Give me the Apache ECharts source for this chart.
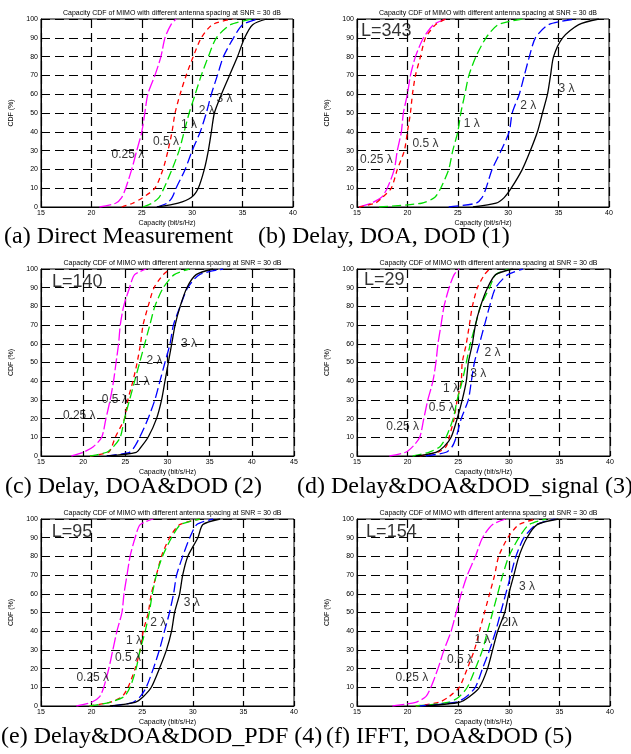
<!DOCTYPE html>
<html>
<head>
<meta charset="utf-8">
<script src="https://cdn.jsdelivr.net/npm/echarts@6/dist/echarts.min.js"></script>
<style>html,body{margin:0;padding:0;background:#fff;}#c{width:631px;height:754px;}</style>
</head>
<body>
<div id="c"></div>
<script>
// CDF levels (%) shared by all curves
const cdfLevels = [0, 2, 5, 10, 20, 30, 40, 50, 60, 70, 80, 90, 97, 100];
const spacingNames = ['0.25 λ', '0.5 λ', '1 λ', '2 λ', '3 λ'];

// (a) Direct Measurement: capacity (bit/s/Hz) at each CDF level
const capA_025 = [20.8, 22.4, 23.0, 23.4, 24.0, 24.5, 25.0, 25.3, 25.6, 26.3, 26.9, 27.3, 27.9, 28.4];
const capA_05  = [23.0, 24.1, 25.1, 26.3, 27.1, 27.6, 28.0, 28.3, 28.8, 29.4, 30.1, 30.9, 32.0, 34.0];
const capA_1   = [25.1, 26.0, 26.7, 27.2, 28.0, 28.7, 29.2, 29.7, 30.3, 30.9, 31.6, 32.4, 33.8, 36.0];
const capA_2   = [26.5, 27.5, 28.0, 28.4, 29.3, 30.0, 30.8, 31.4, 31.9, 32.5, 33.1, 34.1, 35.0, 36.5];
const capA_3   = [26.5, 28.6, 29.9, 30.6, 31.2, 31.6, 31.9, 32.2, 32.9, 33.7, 34.5, 35.2, 36.0, 37.4];

// (b) Delay, DOA, DOD (1)
const capB_025 = [15.2, 16.4, 17.4, 18.0, 18.7, 19.0, 19.4, 19.6, 20.0, 20.3, 20.8, 21.6, 22.6, 23.8];
const capB_05  = [15.2, 16.8, 17.5, 18.4, 19.0, 19.7, 20.0, 20.3, 20.5, 20.8, 21.3, 21.8, 22.8, 23.8];
const capB_1   = [17.2, 21.4, 22.7, 23.3, 24.1, 24.5, 25.0, 25.3, 25.7, 26.1, 26.8, 27.8, 29.0, 31.4];
const capB_2   = [24.1, 26.8, 27.4, 27.8, 28.4, 29.3, 30.1, 30.4, 31.1, 31.6, 32.1, 32.7, 34.0, 36.7];
const capB_3   = [26.5, 28.8, 29.6, 30.3, 31.4, 32.2, 32.9, 33.4, 33.9, 34.2, 34.5, 35.4, 37.0, 39.0];

// (c) Delay, DOA&DOD (2)
const capC_025 = [18.6, 20.0, 21.2, 22.2, 22.7, 23.2, 23.6, 23.9, 24.2, 24.4, 24.8, 25.5, 26.1, 27.5];
const capC_05  = [20.8, 23.0, 23.4, 23.8, 24.9, 25.3, 25.9, 26.4, 26.8, 27.1, 27.7, 28.4, 29.5, 30.3];
const capC_1   = [20.8, 22.8, 23.6, 24.4, 24.9, 25.5, 26.1, 26.7, 27.3, 27.9, 28.5, 29.5, 30.8, 32.6];
const capC_2   = [22.8, 25.5, 26.1, 26.7, 27.7, 28.5, 29.1, 29.7, 30.3, 30.7, 31.5, 32.4, 33.8, 36.6];
const capC_3   = [22.8, 26.3, 26.9, 27.7, 28.7, 29.3, 29.7, 30.1, 30.5, 30.9, 31.5, 32.3, 33.4, 35.4];

// (d) Delay&DOA&DOD_signal (3)
const capD_025 = [18.2, 19.8, 20.5, 21.2, 21.6, 22.0, 22.5, 22.8, 23.0, 23.3, 23.6, 24.1, 24.6, 25.1];
const capD_05  = [21.2, 23.0, 23.8, 24.1, 24.6, 24.9, 25.3, 25.4, 25.8, 26.1, 26.4, 26.9, 27.6, 28.1];
const capD_1   = [20.5, 22.1, 23.2, 23.8, 24.5, 24.9, 25.4, 25.8, 26.2, 26.7, 27.2, 28.1, 28.7, 30.0];
const capD_2   = [21.8, 23.8, 24.4, 24.8, 25.3, 26.0, 26.3, 26.6, 27.1, 27.6, 28.1, 28.7, 29.9, 31.4];
const capD_3   = [20.8, 22.8, 23.6, 24.3, 24.9, 25.4, 25.8, 26.0, 26.4, 26.7, 27.2, 27.9, 28.7, 30.4];

// (e) Delay&DOA&DOD_PDF (4)
const capE_025 = [18.5, 20.0, 20.8, 21.2, 21.7, 22.1, 22.5, 23.0, 23.2, 23.5, 23.8, 24.3, 24.8, 26.1];
const capE_05  = [19.8, 21.8, 23.0, 23.6, 24.3, 24.8, 25.1, 25.6, 25.9, 26.4, 26.9, 27.7, 28.7, 30.7];
const capE_1   = [19.8, 21.8, 23.2, 23.8, 24.4, 24.8, 25.3, 25.7, 26.0, 26.4, 27.0, 27.9, 28.8, 30.7];
const capE_2   = [22.1, 24.1, 24.8, 25.4, 26.1, 26.7, 27.2, 27.7, 28.1, 28.4, 29.0, 29.7, 30.4, 32.0];
const capE_3   = [21.8, 24.3, 25.1, 25.9, 26.7, 27.4, 27.9, 28.2, 28.7, 29.0, 29.5, 30.5, 31.0, 32.7];

// (f) IFFT, DOA&DOD (5)
const capF_025 = [18.5, 20.8, 21.8, 22.3, 23.0, 23.6, 24.3, 24.8, 25.3, 25.9, 26.7, 27.4, 28.4, 29.7];
const capF_05  = [20.8, 23.1, 24.1, 25.1, 25.9, 26.6, 27.1, 27.6, 28.1, 28.6, 29.0, 29.9, 31.0, 32.7];
const capF_1   = [20.8, 24.1, 25.1, 25.9, 26.7, 27.4, 27.9, 28.4, 28.9, 29.4, 30.0, 31.0, 32.0, 33.7];
const capF_2   = [21.2, 24.8, 25.8, 26.7, 27.4, 28.1, 28.7, 29.2, 29.7, 30.2, 30.7, 31.5, 32.7, 34.6];
const capF_3   = [21.8, 25.1, 26.1, 27.1, 27.9, 28.4, 28.9, 29.6, 30.0, 30.5, 31.0, 31.8, 32.8, 34.9];

// In-plot annotation anchors: [capacity, CDF %, text]
const notesA = [[22.0, 28, '0.25 λ'], [26.1, 35, '0.5 λ'], [28.9, 43.6, '1 λ'], [30.65, 51, '2 λ'], [32.4, 57.5, '3 λ']];
const notesB = [[15.4, 93.4, 'L=343'], [15.3, 25.3, '0.25 λ'], [20.5, 33.5, '0.5 λ'], [25.6, 44.5, '1 λ'], [31.2, 54, '2 λ'], [35.0, 63, '3 λ']];
const notesC = [[16.3, 93, 'L=140'], [17.6, 21.8, '0.25 λ'], [22.2, 30, '0.5 λ'], [26.0, 40, '1 λ'], [27.5, 51, '2 λ'], [31.6, 60, '3 λ']];
const notesD = [[15.7, 94, 'L=29'], [17.9, 15.5, '0.25 λ'], [22.1, 25.7, '0.5 λ'], [23.5, 36, '1 λ'], [26.2, 44, '3 λ'], [27.6, 55, '2 λ']];
const notesE = [[16.05, 93, 'L=95'], [18.5, 15, '0.25 λ'], [22.3, 25.7, '0.5 λ'], [23.4, 35, '1 λ'], [25.8, 44.6, '2 λ'], [29.1, 55, '3 λ']];
const notesF = [[15.9, 93, 'L=154'], [18.8, 15, '0.25 λ'], [23.9, 25, '0.5 λ'], [26.6, 35.7, '1 λ'], [29.3, 44.5, '2 λ'], [31.0, 64, '3 λ']];

// Axis ranges
const xMaxes = [40, 40, 45, 40, 40, 40];
const panelTitle = 'Capacity CDF of MIMO with different antenna spacing at SNR = 30 dB';
const captions = ['(a) Direct Measurement', '(b) Delay, DOA, DOD (1)', '(c) Delay, DOA&DOD (2)',
                  '(d) Delay&DOA&DOD_signal (3)', '(e) Delay&DOA&DOD_PDF (4)', '(f) IFFT, DOA&DOD (5)'];

const panels = [
  {caps: [capA_025, capA_05, capA_1, capA_2, capA_3], notes: notesA},
  {caps: [capB_025, capB_05, capB_1, capB_2, capB_3], notes: notesB},
  {caps: [capC_025, capC_05, capC_1, capC_2, capC_3], notes: notesC},
  {caps: [capD_025, capD_05, capD_1, capD_2, capD_3], notes: notesD},
  {caps: [capE_025, capE_05, capE_1, capE_2, capE_3], notes: notesE},
  {caps: [capF_025, capF_05, capF_1, capF_2, capF_3], notes: notesF}
];

// Layout / styling
const gridBoxes = [
  {left: 41, top: 19, width: 252, height: 188},
  {left: 357, top: 19, width: 252, height: 188},
  {left: 41, top: 269, width: 253, height: 187},
  {left: 357, top: 269, width: 253, height: 187},
  {left: 41, top: 519, width: 253, height: 187},
  {left: 357, top: 519, width: 253, height: 187}
];
const captionPos = [[4, 237], [258, 237], [5, 487], [297, 487], [1, 737], [326, 737]];
const lineStyles = [
  {color: '#ff00ff', type: [12, 3]},
  {color: '#ff0000', type: [5, 4]},
  {color: '#00dd00', type: [9, 4]},
  {color: '#0000ff', type: [10, 4]},
  {color: '#000000', type: 'solid'}
];

const grids = [], xAxes = [], yAxes = [], series = [], titles = [], graphics = [];
panels.forEach((p, i) => {
  const g = gridBoxes[i];
  grids.push(Object.assign({show: true, borderColor: '#000', borderWidth: 1, backgroundColor: '#fff', containLabel: false}, g));
  xAxes.push({
    type: 'value', gridIndex: i, min: 15, max: xMaxes[i], interval: 5,
    name: 'Capacity (bit/s/Hz)', nameLocation: 'middle', nameGap: 13,
    nameTextStyle: {fontSize: 7, color: '#000', fontFamily: 'Arial'},
    axisLine: {show: true, lineStyle: {color: '#000', width: 1}},
    axisTick: {show: true, inside: true, length: 3, lineStyle: {color: '#000'}},
    axisLabel: {fontSize: 7, color: '#000', margin: 3, fontFamily: 'Arial'},
    splitLine: {show: true, lineStyle: {color: '#000', type: [9, 5], width: 1.2}}
  });
  yAxes.push({
    type: 'value', gridIndex: i, min: 0, max: 100, interval: 10,
    name: 'CDF (%)', nameLocation: 'middle', nameGap: 26,
    nameTextStyle: {fontSize: 7, color: '#000', fontFamily: 'Arial'},
    axisLine: {show: true, lineStyle: {color: '#000', width: 1}},
    axisTick: {show: true, inside: true, length: 3, lineStyle: {color: '#000'}},
    axisLabel: {fontSize: 7, color: '#000', margin: 3, fontFamily: 'Arial'},
    splitLine: {show: true, lineStyle: {color: '#000', type: [9, 5], width: 1.2}}
  });
  p.caps.forEach((arr, k) => {
    series.push({
      type: 'line', xAxisIndex: i, yAxisIndex: i, name: spacingNames[k],
      data: arr.map((c, j) => [c, cdfLevels[j]]),
      showSymbol: false, smooth: 0.25, z: 3 + k,
      lineStyle: {color: lineStyles[k].color, type: lineStyles[k].type, width: 1.3}
    });
  });
  series.push({
    type: 'scatter', xAxisIndex: i, yAxisIndex: i, symbolSize: 0, z: 10,
    data: p.notes.map(n => ({value: [n[0], n[1]], label: {fontSize: n[2].startsWith('L=') ? 18 : 12}})),
    label: {
      show: true, position: 'right', distance: 0, color: '#000', fontFamily: 'Arial',
      formatter: (prm) => p.notes[prm.dataIndex][2]
    }
  });
  titles.push({
    text: panelTitle, left: g.left + g.width / 2, top: g.top - 14, textAlign: 'center',
    textStyle: {fontSize: 7, fontWeight: 'normal', color: '#000', fontFamily: 'Arial'}
  });
  graphics.push({
    type: 'text', x: captionPos[i][0], y: captionPos[i][1],
    style: {text: captions[i], fontSize: 24, fontFamily: '"Liberation Serif", "Times New Roman", serif',
            fill: '#000', verticalAlign: 'middle', align: 'left'}
  });
});

const chart = echarts.init(document.getElementById('c'), null, {renderer: 'canvas'});
chart.setOption({
  animation: false,
  backgroundColor: '#fff',
  title: titles,
  grid: grids,
  xAxis: xAxes,
  yAxis: yAxes,
  series: series,
  graphic: graphics
});
</script>
</body>
</html>
